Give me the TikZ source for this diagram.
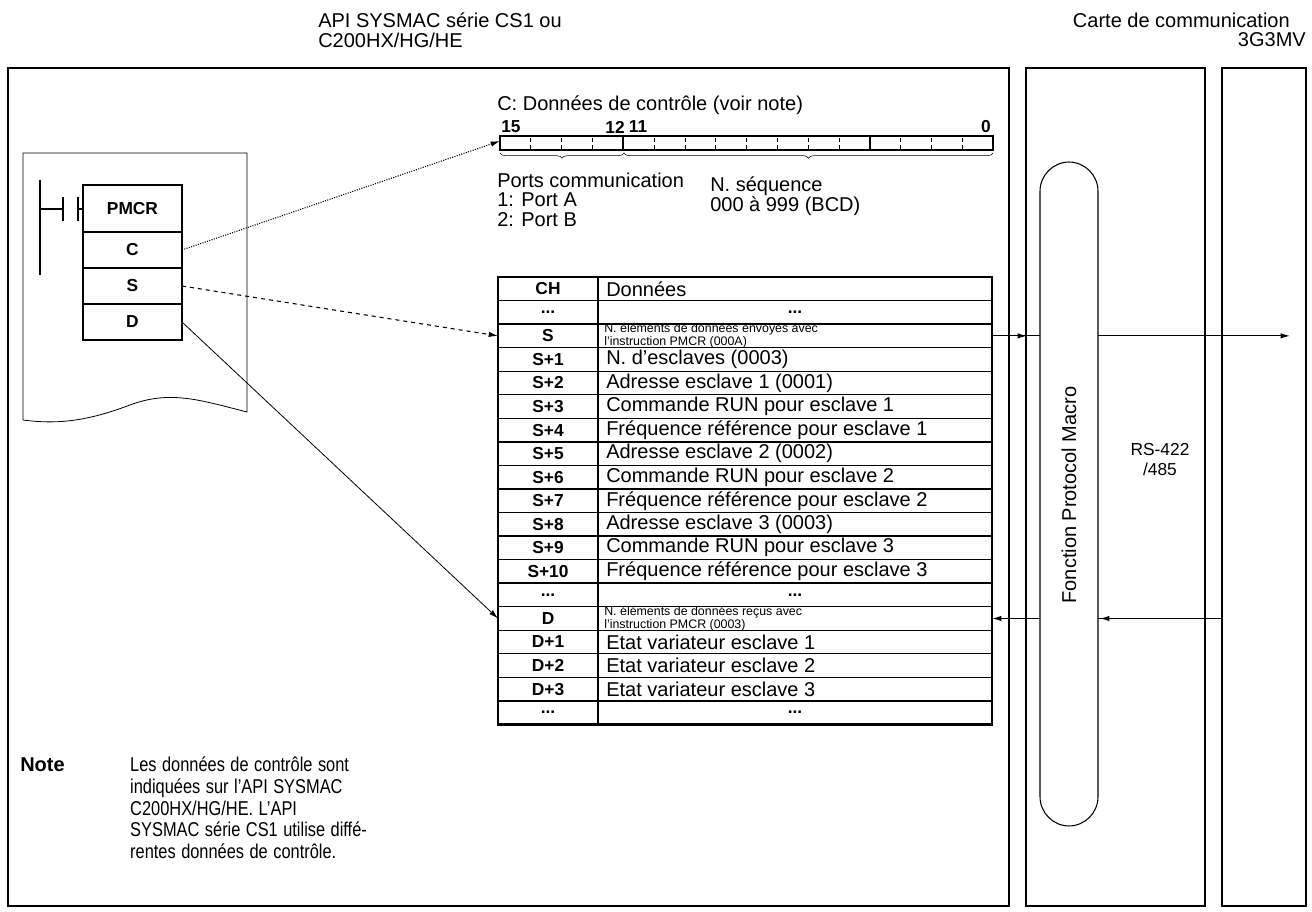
\documentclass[tikz,border=0pt]{standalone}
\usepackage{fontspec}
\setmainfont{Liberation Sans}
\usetikzlibrary{decorations.pathreplacing,arrows.meta}
\begin{document}
\begin{tikzpicture}[x=0.75pt,y=-0.75pt,
  txt/.style={inner sep=0pt,font=\fontsize{15}{16}\selectfont},
  small/.style={inner sep=0pt,font=\fontsize{9.3}{10}\selectfont,align=left},
  lbl/.style={inner sep=0pt,font=\fontsize{13}{15}\selectfont\bfseries},
  frame/.style={line width=1.4pt},
  arr/.style={-{Latex[length=7pt,width=4pt]}}]
\useasboundingbox (0,0) rectangle (1312,912);
% top texts
\node[txt,anchor=west] (t1) at (318,20) {API SYSMAC série CS1 ou};
\node[txt,anchor=west] (t2) at (318,40) {C200HX/HG/HE};
\node[txt,anchor=east] (t3) at (1290,20) {Carte de communication};
\node[txt,anchor=east] (t4) at (1306,40) {3G3MV};
% frames
\draw[frame] (8,68) rectangle (1009,906);
\draw[frame] (1026,68) rectangle (1205,906);
\draw[frame] (1222,68) rectangle (1306,906);
\draw[line width=0.8pt,rounded corners=22pt] (1040,162) rectangle (1098,826);
\node[txt,rotate=90] (fpm) at (1069,495) {Fonction Protocol Macro};
\node[txt,font=\fontsize{13}{15}\selectfont,align=center] (rs) at (1160,460) {RS-422\\/485};
% ladder
\draw[line width=0.6pt] (23,420) -- (23,153) -- (247,153) -- (247,412)
  .. controls (200,400) and (170,390) .. (130,405) .. controls (90,420) and (60,425) .. (23,420);
\draw[line width=0.9pt] (40,180) -- (40,275);
\draw[line width=0.9pt] (40,209) -- (63,209) (63,197) -- (63,221) (78,197) -- (78,221) (78,209) -- (83,209);
\foreach \n/\t/\a/\b in {pm/PMCR/185/232, c/C/232/268, s/S/268/304, d/D/304/340}{
  \draw[line width=0.9pt] (83,\a) rectangle (182,\b);
  \node[lbl] (\n) at (132.5,{(\a+\b)/2}) {\t};
  \coordinate (\n r) at (182,{(\a+\b)/2});
}
\draw[line width=1.6pt] (83,185) rectangle (182,340);
% bit field
\node[txt,anchor=west] (ctitle) at (497,105) {C: Données de contrôle (voir note)};
\node[lbl,anchor=west] (b15) at (501,127) {15};
\node[lbl] (b12) at (615,127) {12};
\node[lbl] (b11) at (638,127) {11};
\node[lbl] (b0) at (986,127) {0};
\draw[line width=1.2pt] (500,136) rectangle (993,150);
\foreach \i in {1,...,15}{
  \pgfmathsetmacro\xx{500+\i*30.81}
  \ifnum\i=4 \draw[line width=1.2pt] (\xx,136)--(\xx,150);
  \else\ifnum\i=12 \draw[line width=1.2pt] (\xx,136)--(\xx,150);
  \else \draw[densely dashed,line width=0.5pt] (\xx,138)--(\xx,150);\fi\fi}
\coordinate (bf) at (500,141);
\draw[decorate,decoration={brace,mirror,amplitude=4pt}] (500,153) -- (624,153);
\draw[decorate,decoration={brace,mirror,amplitude=4pt}] (624,153) -- (993,153);
\node[txt,anchor=west] (pc) at (497,180) {Ports communication};
\node[txt,anchor=west] (pa) at (497,200) {1: Port A};
\node[txt,anchor=west] (pb) at (497,220) {2: Port B};
\node[txt,anchor=west] (ns) at (710,186) {N. séquence};
\node[txt,anchor=west] (nb) at (710,206) {000 à 999 (BCD)};
% table
\def\rh{23.55}
\foreach \k/\l/\r/\al in {
 0/CH/Données/w, 1/{...}/{...}/c, 2/S/{}/w, 3/S+1/N. d'esclaves (0003)/w,
 4/S+2/Adresse esclave 1 (0001)/w, 5/S+3/Commande RUN pour esclave 1/w,
 6/S+4/Fréquence référence pour esclave 1/w, 7/S+5/Adresse esclave 2 (0002)/w,
 8/S+6/Commande RUN pour esclave 2/w, 9/S+7/Fréquence référence pour esclave 2/w,
 10/S+8/Adresse esclave 3 (0003)/w, 11/S+9/Commande RUN pour esclave 3/w,
 12/S+10/Fréquence référence pour esclave 3/w, 13/{...}/{...}/c, 14/D/{}/w,
 15/D+1/Etat variateur esclave 1/w, 16/D+2/Etat variateur esclave 2/w,
 17/D+3/Etat variateur esclave 3/w, 18/{...}/{...}/c}{
  \pgfmathsetmacro\ya{277+\k*\rh}
  \pgfmathsetmacro\yc{277+(\k+0.5)*\rh}
  \draw[line width=1pt] (498,\ya) rectangle (992,\ya+\rh);
  \node[lbl] (k\k) at (548,\yc) {\l};
  \if\al c\node[lbl] (v\k) at (795,\yc) {\r};
  \else\node[txt,anchor=west] (v\k) at (606,\yc) {\r};\fi
}
\draw[line width=1pt] (598,277) -- (598,{277+19*\rh});
\draw[line width=1.6pt] (498,277) rectangle (992,{277+19*\rh});
\node[small,anchor=west] (sx) at (604,{277+2.5*\rh}) {N. éléments de données envoyés avec\\l'instruction PMCR (000A)};
\node[small,anchor=west] (dx) at (604,{277+14.5*\rh}) {N. éléments de données reçus avec\\l'instruction PMCR (0003)};
\coordinate (srow) at (498,{277+2.5*\rh});
\coordinate (drow) at (498,{277+14.5*\rh});
\coordinate (sout) at (992,{277+2.5*\rh});
\coordinate (dout) at (992,{277+14.5*\rh});
\coordinate (pin) at (1040,{277+2.5*\rh});
\coordinate (pin2) at (1040,{277+14.5*\rh});
\coordinate (pout) at (1098,{277+2.5*\rh});
\coordinate (pout2) at (1098,{277+14.5*\rh});
\coordinate (rin) at (1290,{277+2.5*\rh});
\coordinate (rin2) at (1222,{277+14.5*\rh});
% connectors
\draw[arr,densely dotted,line width=0.8pt] (cr) -- (bf);
\draw[arr,dashed,line width=0.8pt] (sr) -- (srow);
\draw[arr,line width=0.6pt] (dr) -- (drow);
\draw[line width=0.8pt] (sout) -- (pin);
\draw[arr,line width=0.8pt] (sout) -- (1027,{277+2.5*\rh});
\draw[arr,line width=0.8pt] (pout) -- (rin);
\draw[arr,line width=0.8pt] (pin2) -- (dout);
\draw[line width=0.8pt] (rin2) -- (pout2);
\draw[arr,line width=0.8pt] (rin2) -- (1100,{277+14.5*\rh});
% note
\node[txt,font=\fontsize{15}{16}\selectfont\bfseries,anchor=north west] (note) at (20,757) {Note};
\node[txt,anchor=north west,xscale=0.82,transform shape,text width=206pt,align=left,font=\fontsize{15}{16.2}\selectfont] (nt) at (130,757)
 {Les données de contrôle sont\\
  \makebox[\linewidth][s]{indiquées sur l'API SYSMAC}\\
  C200HX/HG/HE. L'API\\
  \makebox[\linewidth][s]{SYSMAC série CS1 utilise diffé-}\\
  rentes données de contrôle.};
\end{tikzpicture}
\end{document}
